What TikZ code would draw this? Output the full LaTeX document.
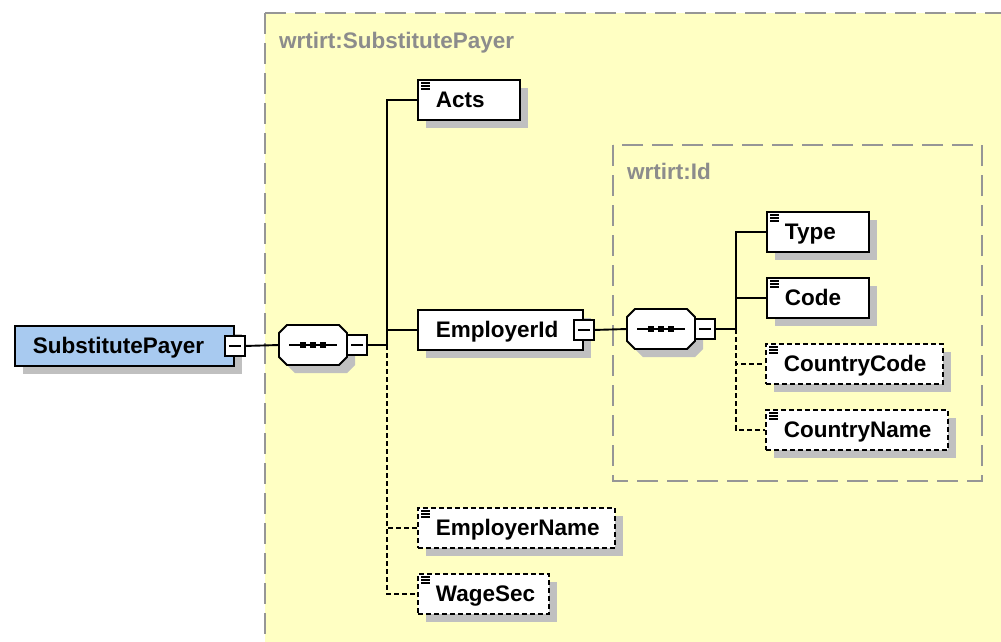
\documentclass[tikz,border=0pt]{standalone}
\usepackage{fontspec}
\setmainfont{Liberation Sans}
\usetikzlibrary{shadows}
\definecolor{bgyellow}{RGB}{255,255,195}
\definecolor{spblue}{RGB}{168,202,240}
\definecolor{shadowgray}{RGB}{192,192,192}
\definecolor{boxgray}{RGB}{150,150,150}
\definecolor{labelgray}{RGB}{140,140,140}
\tikzset{
  elem/.style={draw=black, fill=white, line width=1.9pt, minimum height=40pt,
    inner xsep=18pt, inner ysep=0pt, text height=15pt, text depth=0pt, align=left,
    font=\fontsize{22.5}{26}\selectfont\bfseries,
    general shadow={fill=shadowgray, shadow xshift=8pt, shadow yshift=-8pt},
    anchor=north west},
  optelem/.style={elem, dash pattern=on 5pt off 3pt},
  minusbox/.style={draw=black, fill=white, line width=1.6pt, minimum size=20pt, inner sep=0pt,
    path picture={\draw[line width=1.6pt] ([xshift=4pt]path picture bounding box.west) -- ([xshift=-4pt]path picture bounding box.east);}},
  conn/.style={line width=1.9pt, draw=black},
  optconn/.style={conn, dash pattern=on 5pt off 3pt},
  groupbox/.style={draw=boxgray, line width=2pt, dash pattern=on 21pt off 9pt},
  grouplabel/.style={text=labelgray, font=\fontsize{22.5}{26}\selectfont\bfseries, anchor=base west, inner sep=0pt},
  seqframe/.style={draw=black, fill=white, line width=1.9pt},
}
\newcommand\docicon[1]{%
  \foreach \dy in {4,7,10}{\draw[line width=1.2pt] ([shift={(4,\dy)}]#1.north west) -- ++(9,0);}}
\newcommand\seqnode[3]{%
  \node[minimum width=68pt, minimum height=40pt, inner sep=0pt, outer sep=0pt, anchor=north west] (#1) at (#2,#3) {};
  \begin{scope}[shift={(#1.north west)}]
    \fill[shadowgray] (16,8)--(68,8)--(76,16)--(76,40)--(68,48)--(16,48)--(8,40)--(8,16)--cycle;
    \path[seqframe] (8,0)--(60,0)--(68,8)--(68,32)--(60,40)--(8,40)--(0,32)--(0,8)--cycle;
    \draw[line width=1.8pt] (10,20) -- (58,20);
    \fill (21,17) rectangle ++(6,6);
    \fill (31,17) rectangle ++(6,6);
    \fill (41,17) rectangle ++(6,6);
  \end{scope}
  \node[minusbox] (#1m) at ([xshift=10pt]#1.east) {};}
\begin{document}
\begin{tikzpicture}[x=1pt,y=-1pt]
\useasboundingbox (0,0) rectangle (1001,641);
% group boxes
\fill[bgyellow] (265,13) rectangle (1010,650);
\draw[groupbox] (265,13) -- (1010,13);
\draw[groupbox] (265,13) -- (265,650);
\node[grouplabel] (lblsp) at (279,48) {wrtirt:SubstitutePayer};
\draw[groupbox] (613,145) rectangle (982,481);
\node[grouplabel] (lblid) at (627,179) {wrtirt:Id};

\coordinate (t1) at (387,345);
\coordinate (t2) at (736,329);

% nodes
\node[elem, fill=spblue, text width=183pt] (sp) at (14,325) {SubstitutePayer};
\node[minusbox] (spm) at (sp.east) {};
\seqnode{seqa}{279}{325}

\node[elem, text width=66pt] (acts) at (417,79) {Acts};
\node[elem, text width=129pt] (eid) at (417,309) {EmployerId};
\node[minusbox] (eidm) at (eid.east) {};
\node[optelem, text width=161pt] (ename) at (417,507) {EmployerName};
\node[optelem, text width=95pt] (wsec) at (417,573) {WageSec};

\seqnode{seqb}{627}{309}

\node[elem, text width=66pt] (type) at (766,211) {Type};
\node[elem, text width=66pt] (code) at (766,277) {Code};
\node[optelem, text width=141pt] (ccode) at (765,343) {CountryCode};
\node[optelem, text width=146pt] (cname) at (765,409) {CountryName};

\docicon{acts}
\docicon{ename}
\docicon{wsec}
\docicon{type}
\docicon{code}
\docicon{ccode}
\docicon{cname}

% connectors
\draw[conn] (spm.east) -- (seqa.west);
\draw[conn] (seqam.east) -- (t1);
\draw[conn] (t1) |- (acts.west);
\draw[conn] (t1) |- (eid.west);
\draw[optconn] (t1) |- (ename.west);
\draw[optconn] (t1) |- (wsec.west);

\draw[conn] (eidm.east) -- (seqb.west);
\draw[conn] (seqbm.east) -- (t2);
\draw[conn] (t2) |- (type.west);
\draw[conn] (t2) |- (code.west);
\draw[optconn] (t2) |- (ccode.west);
\draw[optconn] (t2) |- (cname.west);
\end{tikzpicture}
\end{document}
